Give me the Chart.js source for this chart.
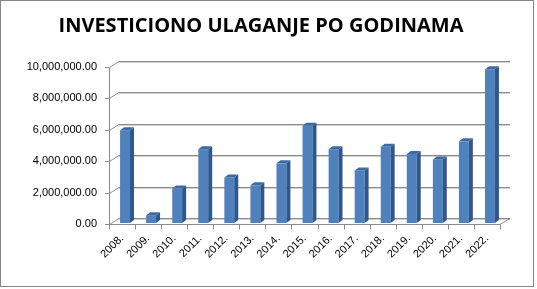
<!DOCTYPE html>
<html>
<head>
<meta charset="utf-8">
<script src="https://cdn.jsdelivr.net/npm/chart.js@4"></script>
<style>
  body { margin: 0; background: #fff; }
  canvas { display: block; }
</style>
</head>
<body>
<canvas id="chart" width="537" height="289"></canvas>
<script>
// data
const years = ["2008.", "2009.", "2010.", "2011.", "2012.", "2013.", "2014.", "2015.",
  "2016.", "2017.", "2018.", "2019.", "2020.", "2021.", "2022."];
const investment = [5900000, 500000, 2200000, 4700000, 2900000, 2400000, 3800000, 6200000,
  4700000, 3350000, 4850000, 4400000, 4050000, 5200000, 9800000];
const yTicks = [0, 2000000, 4000000, 6000000, 8000000, 10000000];

const title = "INVESTICIONO ULAGANJE PO GODINAMA";

// 3d look: back wall offset and bar depth
const wallDx = 10, wallDy = -6;
const barDx = 4, barDy = -3;

const fmt = (v) =>
  v.toLocaleString("en-US", { minimumFractionDigits: 2, maximumFractionDigits: 2 });

const frame = {
  id: "frame",
  beforeDraw(chart) {
    const ctx = chart.ctx;
    const a = chart.chartArea;
    const y = chart.scales.y;
    ctx.save();
    ctx.fillStyle = "#fff";
    ctx.fillRect(0, 0, chart.width, chart.height);
    // outer border
    ctx.strokeStyle = "#868686";
    ctx.lineWidth = 1;
    ctx.strokeRect(0.5, 0.5, 533, 286);

    // back wall gridlines
    yTicks.forEach((t) => {
      const py = Math.round(y.getPixelForValue(t) + wallDy) + 0.5;
      ctx.strokeStyle = "#d0d0d0";
      ctx.beginPath();
      ctx.moveTo(a.left + wallDx, py + 1);
      ctx.lineTo(a.right + wallDx, py + 1);
      ctx.stroke();
      ctx.strokeStyle = "#8c8c8c";
      ctx.beginPath();
      ctx.moveTo(a.left + wallDx, py);
      ctx.lineTo(a.right + wallDx, py);
      ctx.stroke();
      // side wall edge + tick
      const fy = Math.round(y.getPixelForValue(t)) + 0.5;
      ctx.beginPath();
      ctx.moveTo(a.left - 4, fy);
      ctx.lineTo(a.left + 0.5, fy);
      ctx.lineTo(a.left + wallDx, py);
      ctx.stroke();
    });

    // vertical axis line
    ctx.strokeStyle = "#8c8c8c";
    ctx.beginPath();
    ctx.moveTo(a.left + 0.5, Math.round(y.getPixelForValue(10000000)) + 0.5);
    ctx.lineTo(a.left + 0.5, Math.round(a.bottom) + 0.5);
    ctx.stroke();

    // floor front edge and right side
    const by = Math.round(a.bottom) + 0.5;
    ctx.beginPath();
    ctx.moveTo(a.left, by);
    ctx.lineTo(a.right, by);
    ctx.lineTo(a.right + wallDx, Math.round(a.bottom + wallDy) + 0.5);
    ctx.stroke();

    // category ticks under the floor
    for (let i = 0; i <= years.length; i++) {
      const px = Math.round(a.left + (a.right - a.left) * i / years.length) + 0.5;
      ctx.beginPath();
      ctx.moveTo(px, by);
      ctx.lineTo(px, by + 5);
      ctx.stroke();
    }
    ctx.restore();
  },
  beforeDatasetsDraw(chart) {
    chart.ctx.save();
    chart.ctx.translate(3, -1);
  },
  afterDatasetsDraw(chart) {
    const ctx = chart.ctx;
    chart.getDatasetMeta(0).data.forEach((bar) => {
      const l = bar.x - bar.width / 2;
      const r = bar.x + bar.width / 2;
      const t = bar.y;
      const b = bar.base;
      // side
      ctx.fillStyle = "#2f5789";
      ctx.beginPath();
      ctx.moveTo(r, t);
      ctx.lineTo(r + barDx, t + barDy);
      ctx.lineTo(r + barDx, b + barDy);
      ctx.lineTo(r, b);
      ctx.closePath();
      ctx.fill();
      // top
      ctx.fillStyle = "#3d6aa5";
      ctx.beginPath();
      ctx.moveTo(l, t);
      ctx.lineTo(l + barDx, t + barDy);
      ctx.lineTo(r + barDx, t + barDy);
      ctx.lineTo(r, t);
      ctx.closePath();
      ctx.fill();
    });
    ctx.restore();
  },
};

new Chart(document.getElementById("chart"), {
  type: "bar",
  data: {
    labels: years,
    datasets: [{
      data: investment,
      backgroundColor: "#4f81bd",
      borderWidth: 0,
      categoryPercentage: 1,
      barPercentage: 0.38,
    }],
  },
  options: {
    responsive: false,
    animation: false,
    devicePixelRatio: 1,
    layout: { padding: { left: 0, right: 15, bottom: 0 } },
    plugins: {
      legend: { display: false },
      tooltip: { enabled: false },
      title: {
        display: true,
        text: title,
        color: "#000",
        font: { family: "Open Sans", size: 20, weight: "bold", lineHeight: 1.2 },
        padding: { top: 14, bottom: 29 },
      },
    },
    scales: {
      x: {
        grid: { display: false, drawTicks: false },
        border: { display: false },
        afterFit: (s) => { s.height = 65; },
        ticks: {
          color: "#000",
          font: { family: "Liberation Sans", size: 11 },
          minRotation: 45,
          maxRotation: 45,
          padding: 8,
        },
      },
      y: {
        min: 0,
        max: 10000000,
        grid: { display: false, drawTicks: false },
        border: { display: false },
        afterFit: (s) => { s.width = 109; },
        afterBuildTicks: (s) => { s.ticks = yTicks.map((v) => ({ value: v })); },
        ticks: {
          color: "#000",
          font: { family: "Liberation Sans", size: 11 },
          padding: 12,
          callback: (v) => fmt(v),
        },
      },
      // empty right gutter so the plot ends where the 3d wall needs it
      gutter: {
        position: "right",
        display: true,
        grid: { display: false, drawTicks: false },
        border: { display: false },
        ticks: { display: false },
        afterFit: (s) => { s.width = 22; },
      },
    },
  },
  plugins: [frame],
});
</script>
</body>
</html>
